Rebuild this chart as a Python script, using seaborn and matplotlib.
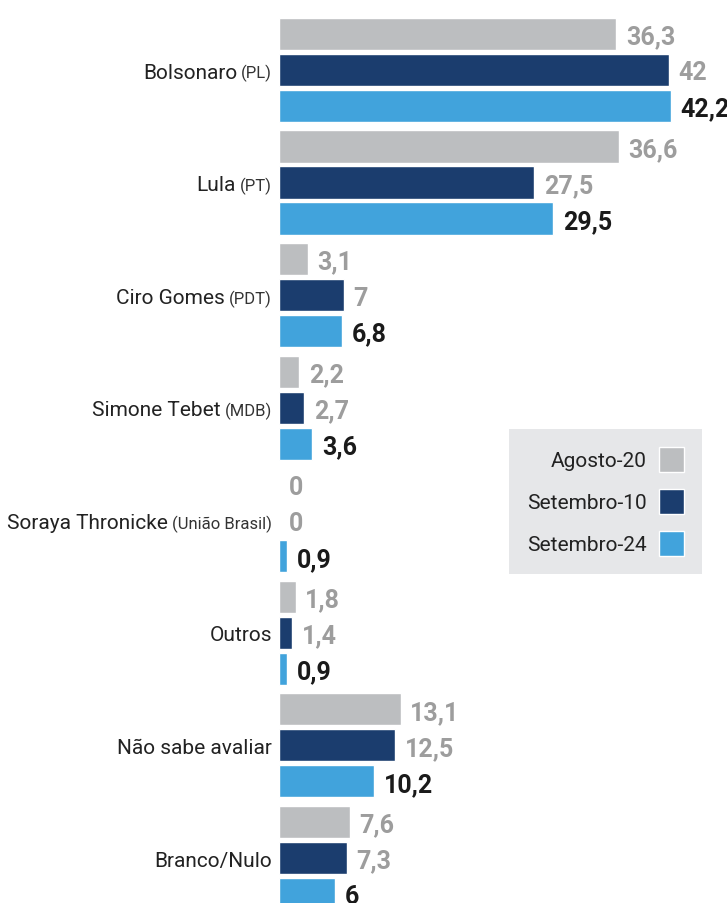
import pandas as pd
import matplotlib
matplotlib.use("Agg")
import matplotlib.pyplot as plt
import seaborn as sns
from matplotlib import font_manager

# Data
candidatos = ['Bolsonaro', 'Lula', 'Ciro Gomes', 'Simone Tebet', 'Soraya Thronicke',
              'Outros', 'Não sabe avaliar', 'Branco/Nulo']
partidos = ['PL', 'PT', 'PDT', 'MDB', 'União Brasil', '', '', '']
pesquisas = ['Agosto-20', 'Setembro-10', 'Setembro-24']
agosto_20 = [36.3, 36.6, 3.1, 2.2, 0, 1.8, 13.1, 7.6]
setembro_10 = [42, 27.5, 7, 2.7, 0, 1.4, 12.5, 7.3]
setembro_24 = [42.2, 29.5, 6.8, 3.6, 0.9, 0.9, 10.2, 6]

cores = ['#bcbec0', '#1b3d6e', '#41a3dc']
cores_valor = ['#9d9d9d', '#9d9d9d', '#1a1a1a']


def pick_font(names):
    for n in names:
        try:
            font_manager.findfont(n, fallback_to_default=False)
            return n
        except ValueError:
            pass
    return 'DejaVu Sans'


sns.set_style("white")
fonte = pick_font(['Roboto', 'Open Sans'])
plt.rcParams['font.family'] = [fonte, 'DejaVu Sans']

df = pd.DataFrame({'Candidato': candidatos,
                   'Agosto-20': agosto_20,
                   'Setembro-10': setembro_10,
                   'Setembro-24': setembro_24})
df_long = df.melt(id_vars='Candidato', var_name='Pesquisa', value_name='Valor')

fig = plt.figure(figsize=(7.27, 9.04), dpi=100)
x0 = 279 / 727
ax = fig.add_axes([x0, 0, 1 - x0, 1])

sns.barplot(data=df_long, y='Candidato', x='Valor', hue='Pesquisa', orient='h',
            hue_order=pesquisas, palette=cores, saturation=1, width=0.96, gap=0.11,
            errorbar=None, ax=ax)

# the original graphic is cropped: last label and last bar run off the edges
ax.set_xlim(0, 448 / 9.286)
ax.set_ylim(7.40, -0.63)
for s in ax.spines.values():
    s.set_visible(False)
ax.set_xticks([])
ax.set_yticks([])
ax.set_xlabel('')
ax.set_ylabel('')


def fmt(v):
    return f'{v:g}'.replace('.', ',')


for cont, cor in zip(ax.containers, cores_valor):
    vals = [b.get_width() for b in cont]
    anns = ax.bar_label(cont, labels=[fmt(v) for v in vals], padding=7, color=cor,
                        fontsize=18, fontweight='bold')
    for a in anns:
        a.set_va('center_baseline')

# Category labels: name + smaller party text
fig.canvas.draw()
renderer = fig.canvas.get_renderer()
for i, (nome, partido) in enumerate(zip(candidatos, partidos)):
    off = -5
    if partido:
        t = ax.annotate(f'({partido})', xy=(0, i), xytext=(off, -5.5), textcoords='offset points',
                        ha='right', va='baseline', fontsize=12, color='#333333',
                        annotation_clip=False)
        w = t.get_window_extent(renderer).width * 72 / fig.dpi
        off = off - w - 3
    ax.annotate(nome, xy=(0, i), xytext=(off, -5.5), textcoords='offset points',
                ha='right', va='baseline', fontsize=15, color='#222222',
                annotation_clip=False)

# Legend
leg = ax.legend(loc='upper left', bbox_to_anchor=(509 / 727, 1 - 430 / 904),
                bbox_transform=fig.transFigure, borderaxespad=0, markerfirst=False,
                frameon=True, fancybox=False, facecolor='#e6e7e9', edgecolor='none',
                framealpha=1, fontsize=15, handlelength=1.2, handleheight=1.47,
                handletextpad=0.6, labelspacing=0.82, borderpad=0.85, title=None)
for txt in leg.get_texts():
    txt.set_color('#222222')

fig.savefig('out.png', dpi=100)
